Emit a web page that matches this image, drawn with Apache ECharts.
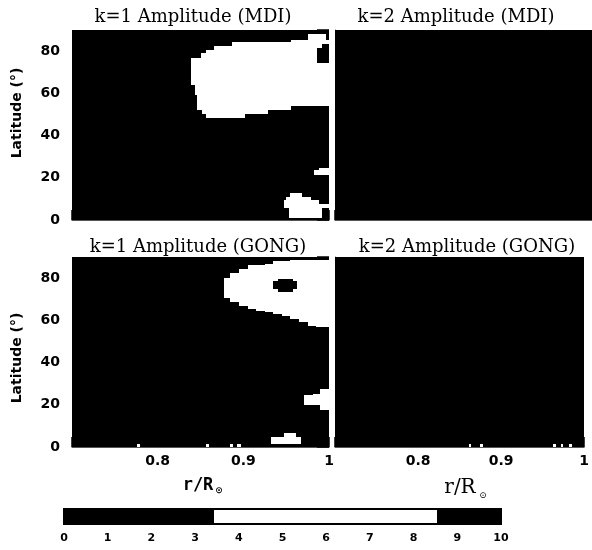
<!DOCTYPE html>
<html>
<head>
<meta charset="utf-8">
<script src="https://cdn.jsdelivr.net/npm/echarts@6/dist/echarts.min.js"></script>
<style>
  html, body { margin: 0; padding: 0; background: #ffffff; }
  #chart { width: 592px; height: 550px; }
</style>
</head>
<body>
<div id="chart"></div>
<script>
// ---------------- data ----------------
const panelTitles = ['k=1 Amplitude (MDI)', 'k=2 Amplitude (MDI)', 'k=1 Amplitude (GONG)', 'k=2 Amplitude (GONG)'];
const radiusRange = [0.70, 1.00];
const latitudeRange = [0, 90];
const radiusTicks = [0.8, 0.9, 1];
const latitudeTicks = [0, 20, 40, 60, 80];
const colorbarTicks = [0, 1, 2, 3, 4, 5, 6, 7, 8, 9, 10];
const levelBreaks = [0, 3.4, 8.55, 10];
const levelColors = ['#000000', '#ffffff', '#000000'];

// cells: [r inner, r outer, latitude low, latitude high, amplitude]
const k1MDI = [
  [0.700, 1.000, 0.0, 90.0, 2.0],
  [0.976, 0.997, 85.5, 87.9, 5.5],
  [0.956, 1.000, 84.4, 85.5, 5.5],
  [0.887, 1.000, 82.3, 84.4, 6.0],
  [0.866, 1.000, 80.5, 82.3, 6.0],
  [0.857, 1.000, 79.1, 80.5, 6.5],
  [0.850, 1.000, 76.8, 79.1, 6.5],
  [0.839, 1.000, 64.0, 76.8, 7.0],
  [0.843, 1.000, 59.4, 64.0, 7.0],
  [0.846, 1.000, 53.9, 59.4, 6.5],
  [0.846, 0.956, 52.3, 53.9, 6.0],
  [0.852, 0.929, 50.2, 52.3, 5.5],
  [0.857, 0.902, 48.3, 50.2, 5.0],
  [0.986, 1.000, 74.6, 81.5, 3.0],
  [0.992, 1.000, 81.5, 83.4, 3.0],
  [0.988, 1.000, 23.5, 24.6, 4.0],
  [0.982, 1.000, 21.3, 23.5, 4.0],
  [0.955, 0.968, 11.0, 12.6, 4.5],
  [0.950, 0.979, 9.5, 11.0, 5.0],
  [0.947, 0.988, 7.5, 9.5, 5.0],
  [0.948, 1.000, 5.5, 7.5, 5.0],
  [0.953, 0.992, 0.8, 5.5, 4.5]
];
const k2MDI = [
  [0.700, 0.850, 0.0, 45.0, 1.2],
  [0.850, 1.000, 0.0, 45.0, 1.8],
  [0.700, 0.850, 45.0, 90.0, 1.0],
  [0.850, 1.000, 45.0, 90.0, 1.6]
];
const k1GONG = [
  [0.700, 1.000, 0.0, 90.0, 2.2],
  [0.877, 0.885, 70.5, 80.0, 4.5],
  [0.885, 0.895, 68.5, 82.5, 5.0],
  [0.895, 0.905, 67.0, 84.5, 5.5],
  [0.905, 0.915, 65.5, 86.0, 6.0],
  [0.915, 0.925, 64.5, 86.2, 6.5],
  [0.925, 0.935, 64.0, 86.5, 7.0],
  [0.935, 0.945, 63.0, 88.0, 7.5],
  [0.945, 0.955, 62.0, 88.0, 7.5],
  [0.955, 0.965, 60.5, 88.5, 7.5],
  [0.965, 0.975, 59.0, 88.5, 7.0],
  [0.975, 0.985, 57.5, 88.5, 6.5],
  [0.985, 1.000, 57.0, 88.5, 6.0],
  [0.935, 0.963, 74.8, 78.5, 9.0],
  [0.940, 0.958, 73.6, 79.5, 9.0],
  [0.990, 1.000, 25.3, 27.7, 4.0],
  [0.981, 1.000, 24.5, 25.3, 4.2],
  [0.971, 1.000, 19.8, 24.5, 4.5],
  [0.989, 1.000, 17.4, 19.8, 4.0],
  [0.947, 0.961, 4.8, 6.4, 4.0],
  [0.932, 0.967, 1.6, 4.8, 4.2],
  [0.776, 0.779, 0.0, 1.2, 3.6],
  [0.857, 0.860, 0.0, 1.2, 3.6],
  [0.884, 0.888, 0.0, 1.2, 3.6],
  [0.893, 0.897, 0.0, 1.2, 3.6]
];
const k2GONG = [
  [0.700, 0.850, 0.0, 45.0, 1.1],
  [0.850, 1.000, 0.0, 45.0, 1.7],
  [0.700, 0.850, 45.0, 90.0, 0.9],
  [0.850, 1.000, 45.0, 90.0, 1.4],
  [0.861, 0.864, 0.0, 1.2, 3.6],
  [0.875, 0.878, 0.0, 1.2, 3.6],
  [0.963, 0.966, 0.0, 1.2, 3.6],
  [0.972, 0.975, 0.0, 1.2, 3.6],
  [0.982, 0.985, 0.0, 1.2, 3.6]
];
const panelData = [k1MDI, k2MDI, k1GONG, k2GONG];

// ---------------- layout ----------------
const chart = echarts.init(document.getElementById('chart'), null, { renderer: 'canvas' });

const panelGrids = [
  { left: 72, top: 30, width: 257, height: 190 },
  { left: 335, top: 30, width: 257, height: 190 },
  { left: 72, top: 257, width: 257, height: 190 },
  { left: 335, top: 257, width: 257, height: 190 }
];
const cbGrid = { left: 64, top: 509, width: 437, height: 15 };

const numFont = 'DejaVu Sans';
const isTick = (list, v) => list.some(t => Math.abs(t - v) < 1e-6);

const grids = panelGrids.map(g => Object.assign({ containLabel: false }, g)).concat([Object.assign({ containLabel: false }, cbGrid)]);

const xAxes = panelGrids.map((g, i) => ({
  type: 'value', gridIndex: i, min: radiusRange[0], max: radiusRange[1], interval: 0.1,
  axisLine: { show: true, lineStyle: { color: '#555', width: 1 } },
  axisTick: { show: true, inside: true, length: 10, lineStyle: { color: '#000', width: 1.5 } },
  minorTick: { show: true, splitNumber: 5, length: 8, lineStyle: { color: '#000', width: 1.5 } },
  splitLine: { show: false },
  axisLabel: {
    show: i >= 2, margin: 7, color: '#000', fontFamily: numFont, fontWeight: 'bold', fontSize: 14,
    alignMaxLabel: 'center', alignMinLabel: 'center',
    formatter: v => isTick(radiusTicks, v) ? String(Math.round(v * 10) / 10) : ''
  }
}));
xAxes.push({
  type: 'value', gridIndex: 4, min: 0, max: 10, interval: 1,
  axisLine: { show: false }, axisTick: { show: false }, splitLine: { show: false },
  axisLabel: {
    margin: 9, color: '#000', fontFamily: numFont, fontWeight: 'bold', fontSize: 11,
    alignMaxLabel: 'center', alignMinLabel: 'center',
    formatter: v => isTick(colorbarTicks, v) ? String(v) : ''
  }
});

const yAxes = panelGrids.map((g, i) => ({
  type: 'value', gridIndex: i, min: latitudeRange[0], max: latitudeRange[1], interval: 20,
  position: 'left',
  axisLine: { show: i % 2 === 1, lineStyle: { color: '#666', width: 1 } },
  axisTick: { show: false },
  splitLine: { show: false },
  axisLabel: {
    show: i % 2 === 0, margin: 12, color: '#000', fontFamily: numFont, fontWeight: 'bold', fontSize: 14,
    formatter: v => isTick(latitudeTicks, v) ? String(v) : ''
  }
}));
yAxes.push({ type: 'value', gridIndex: 4, min: 0, max: 1, show: false });
[0, 2].forEach(i => {
  yAxes.push({
    type: 'value', gridIndex: i, min: latitudeRange[0], max: latitudeRange[1], interval: 20,
    position: 'right',
    axisLine: { show: false },
    axisTick: { show: true, inside: true, length: 12, lineStyle: { color: '#000', width: 1.5 } },
    minorTick: { show: true, splitNumber: 4, length: 7, lineStyle: { color: '#000', width: 1.5 } },
    splitLine: { show: false },
    axisLabel: { show: false }
  });
});

function cellRect(params, api) {
  const p0 = api.coord([api.value(0), api.value(2)]);
  const p1 = api.coord([api.value(1), api.value(3)]);
  const x0 = Math.round(Math.min(p0[0], p1[0]));
  const x1 = Math.round(Math.max(p0[0], p1[0]));
  const y0 = Math.round(Math.min(p0[1], p1[1]));
  const y1 = Math.round(Math.max(p0[1], p1[1]));
  return {
    type: 'rect',
    shape: { x: x0, y: y0, width: Math.max(1, x1 - x0), height: Math.max(1, y1 - y0) },
    style: { fill: api.visual('color') }
  };
}
function barRect(params, api) {
  const p0 = api.coord([api.value(0), api.value(2)]);
  const p1 = api.coord([api.value(1), api.value(3)]);
  const x0 = Math.round(Math.min(p0[0], p1[0]));
  const x1 = Math.round(Math.max(p0[0], p1[0]));
  const y0 = Math.round(Math.min(p0[1], p1[1]));
  const y1 = Math.round(Math.max(p0[1], p1[1]));
  return {
    type: 'rect',
    shape: { x: x0, y: y0, width: x1 - x0, height: y1 - y0 },
    style: { fill: api.visual('color'), stroke: '#000', lineWidth: 2 }
  };
}

const series = panelData.map((d, i) => ({
  type: 'custom', name: panelTitles[i], coordinateSystem: 'cartesian2d',
  xAxisIndex: i, yAxisIndex: i, clip: true, silent: true,
  encode: { x: [0, 1], y: [2, 3] },
  renderItem: cellRect, data: d
}));
const colorbarCells = levelColors.map((c, k) => [levelBreaks[k], levelBreaks[k + 1], 0, 1, (levelBreaks[k] + levelBreaks[k + 1]) / 2]);
series.push({
  type: 'custom', name: 'colorbar', coordinateSystem: 'cartesian2d',
  xAxisIndex: 4, yAxisIndex: 4, clip: false, silent: true,
  encode: { x: [0, 1], y: [2, 3] },
  renderItem: barRect, data: colorbarCells
});

const pieces = levelColors.map((c, k) => ({ gte: levelBreaks[k], lt: k === levelColors.length - 1 ? levelBreaks[k + 1] + 1e-9 : levelBreaks[k + 1], color: c }));

const titleFont = 'DejaVu Serif';
const titlePos = [[193, 17], [456, 17], [198, 247], [467, 247]];
const graphics = panelTitles.map((t, i) => ({
  type: 'text', x: titlePos[i][0], y: titlePos[i][1], silent: true,
  style: { text: t, fontFamily: titleFont, fontSize: 18, fill: '#000', align: 'center', verticalAlign: 'middle' }
}));
[113, 358].forEach(y => graphics.push({
  type: 'text', x: 17, y: y, rotation: Math.PI / 2, silent: true,
  style: { text: 'Latitude (°)', fontFamily: numFont, fontWeight: 'bold', fontSize: 14, fill: '#000', align: 'center', verticalAlign: 'middle' }
}));
graphics.push({
  type: 'text', x: 198, y: 486, silent: true,
  style: { text: 'r/R', fontFamily: 'DejaVu Sans Mono', fontWeight: 'bold', fontSize: 17, fill: '#000', align: 'center', verticalAlign: 'middle' }
});
graphics.push({
  type: 'text', x: 219, y: 491, silent: true,
  style: { text: '⊙', fontFamily: numFont, fontWeight: 'bold', fontSize: 9, fill: '#000', align: 'center', verticalAlign: 'middle' }
});
graphics.push({
  type: 'text', x: 460, y: 488, silent: true,
  style: { text: 'r/R', fontFamily: titleFont, fontSize: 20, fill: '#000', align: 'center', verticalAlign: 'middle' }
});
graphics.push({
  type: 'text', x: 483, y: 496, silent: true,
  style: { text: '⊙', fontFamily: titleFont, fontSize: 9, fill: '#000', align: 'center', verticalAlign: 'middle' }
});

chart.setOption({
  backgroundColor: '#ffffff',
  animation: false,
  grid: grids,
  xAxis: xAxes,
  yAxis: yAxes,
  visualMap: {
    type: 'piecewise', show: false, dimension: 4,
    seriesIndex: series.map((s, i) => i),
    pieces: pieces
  },
  series: series,
  graphic: graphics
});
</script>
</body>
</html>
